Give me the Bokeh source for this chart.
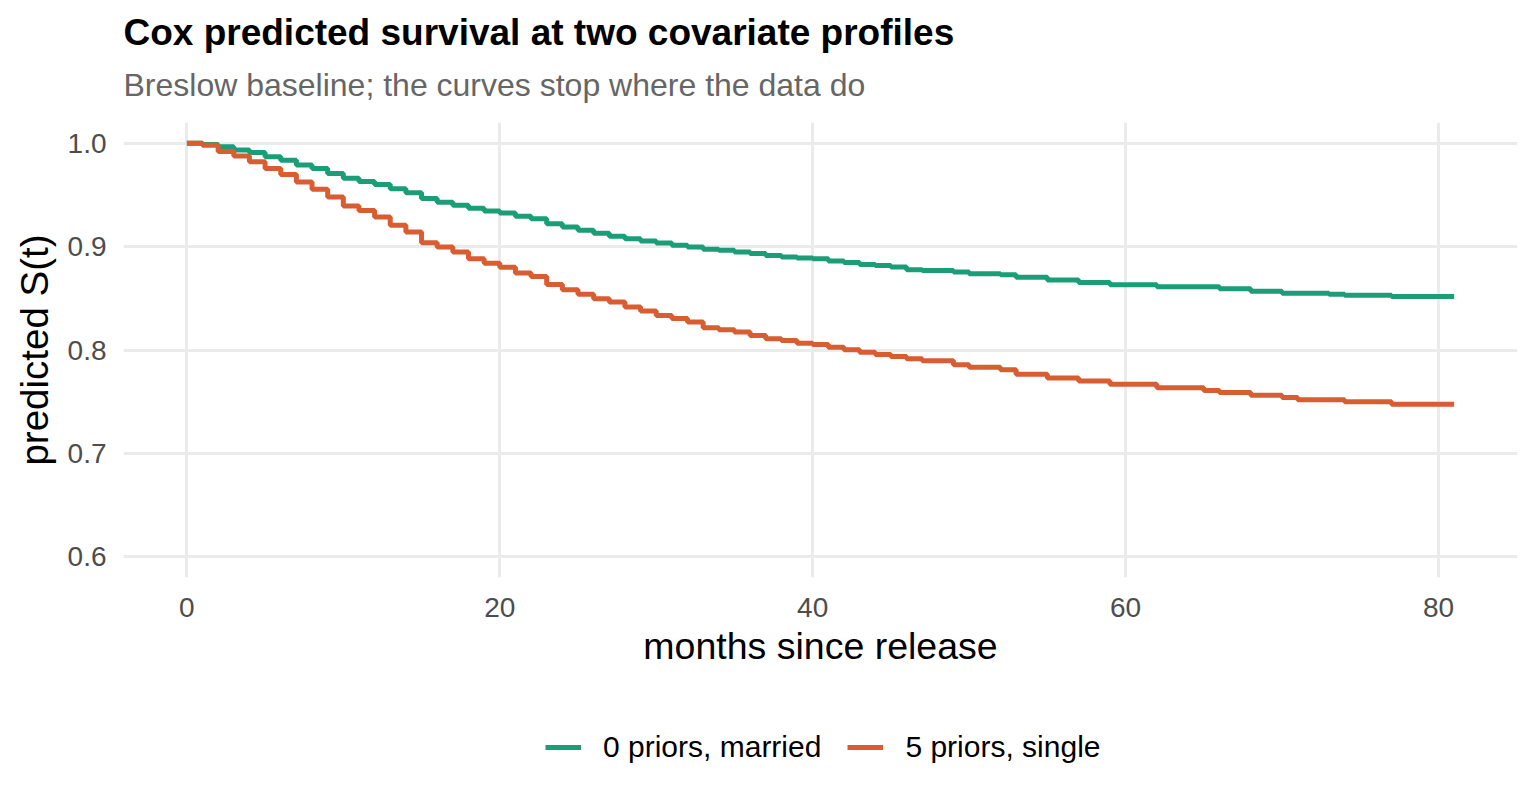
from bokeh.plotting import figure
from bokeh.layouts import column
from bokeh.models import Title, Legend, LegendItem, FixedTicker, PrintfTickFormatter, Range1d
from bokeh.embed import file_html
from bokeh.resources import INLINE

# ---- data ----
green_label = "0 priors, married"
red_label = "5 priors, single"

green_t = [0, 1, 2, 3, 4, 5, 6, 7, 8, 9, 10, 11, 12, 13, 14, 15, 16, 17, 18, 19,
           20, 21, 22, 23, 24, 25, 26, 27, 28, 29, 30, 31, 32, 33, 34, 35, 36, 37, 38, 39,
           40, 41, 42, 43, 44, 45, 46, 47, 49, 50, 52, 53, 55, 57, 59, 62, 66, 68, 70, 73, 74, 77]
green_s = [1.000, 0.9987, 0.9965, 0.9933, 0.991, 0.987, 0.9835, 0.979, 0.9755, 0.9707,
           0.966, 0.963, 0.960, 0.956, 0.952, 0.9464, 0.943, 0.940, 0.937, 0.9345,
           0.9325, 0.9293, 0.927, 0.9222, 0.919, 0.9157, 0.913, 0.910, 0.9077, 0.9054,
           0.9035, 0.9012, 0.8996, 0.8975, 0.8964, 0.8947, 0.8932, 0.8915, 0.8899, 0.889,
           0.8883, 0.886, 0.8845, 0.8828, 0.8818, 0.8802, 0.8777, 0.877,
           0.8754, 0.8738, 0.8728, 0.8703, 0.8677, 0.8653, 0.8631, 0.8612, 0.8593, 0.8567,
           0.855, 0.8538, 0.853, 0.8518]

red_t = [0, 1, 2, 3, 4, 5, 6, 7, 8, 9, 10, 11, 12, 13, 14, 15, 16, 17, 18, 19,
         20, 21, 22, 23, 24, 25, 26, 27, 28, 29, 30, 31, 32, 33, 34, 35, 36, 37, 38, 39,
         40, 41, 42, 43, 44, 45, 46, 47, 49, 50, 52, 53, 55, 57, 59, 62, 65, 66, 68, 70, 71, 74, 77]
red_s = [1.000, 0.998, 0.992, 0.9877, 0.982, 0.9755, 0.9697, 0.9625, 0.9554, 0.948,
         0.9393, 0.935, 0.9287, 0.9206, 0.914, 0.9038, 0.8996, 0.8947, 0.8883, 0.884,
         0.880, 0.8744, 0.871, 0.8634, 0.8583, 0.8538, 0.8496, 0.8463, 0.8415, 0.8376,
         0.8334, 0.8305, 0.827, 0.8215, 0.8195, 0.8173, 0.814, 0.8108, 0.8092, 0.8066,
         0.8053, 0.8027, 0.8002, 0.7979, 0.7956, 0.7937, 0.7915, 0.7895,
         0.7857, 0.7834, 0.781, 0.7766, 0.773, 0.770, 0.767, 0.7634, 0.7608, 0.759,
         0.7562, 0.754, 0.752, 0.750, 0.7475]

end_time = 81  # last follow-up time: curves stop here

x_ticks = [0, 20, 40, 60, 80]
y_ticks = [0.6, 0.7, 0.8, 0.9, 1.0]

title_text = "Cox predicted survival at two covariate profiles"
subtitle_text = "Breslow baseline; the curves stop where the data do"
x_label = "months since release"
y_label = "predicted S(t)"

GREEN = "#1B9E77"
RED = "#D95D32"
FONT = "Liberation Sans"
LW = 5

gx = green_t + [end_time]
gy = green_s + [green_s[-1]]
rx = red_t + [end_time]
ry = red_s + [red_s[-1]]

p = figure(width=1528, height=690, output_backend="svg", toolbar_location=None, title=None,
           x_range=Range1d(-4.05, 85.05), y_range=Range1d(0.58, 1.02),
           min_border_left=123, min_border_right=11, min_border_top=122, min_border_bottom=113)
p.outline_line_color = None
p.background_fill_color = "white"
p.border_fill_color = "white"

# titles (subtitle first: it sits closest to the plot)
p.add_layout(Title(text=subtitle_text, text_font=FONT, text_font_size="32px",
                   text_font_style="normal", text_color="#666666", align="left",
                   standoff=39), "above")
p.add_layout(Title(text=title_text, text_font=FONT, text_font_size="37px",
                   text_font_style="bold", text_color="black", align="left",
                   standoff=-14), "above")

r_green = p.step(gx, gy, mode="after", line_color=GREEN, line_width=LW)
r_red = p.step(rx, ry, mode="after", line_color=RED, line_width=LW)

# axes
for ax in (p.xaxis[0], p.yaxis[0]):
    ax.axis_line_color = None
    ax.major_tick_line_color = None
    ax.minor_tick_line_color = None
    ax.major_label_text_font = FONT
    ax.major_label_text_font_size = "28px"
    ax.major_label_text_color = "#4D4D4D"
    ax.axis_label_text_font = FONT
    ax.axis_label_text_font_size = "37.5px"
    ax.axis_label_text_font_style = "normal"
    ax.axis_label_text_color = "black"
p.yaxis.axis_label_text_font_size = "38.5px"

p.xaxis.ticker = FixedTicker(ticks=x_ticks)
p.yaxis.ticker = FixedTicker(ticks=y_ticks)
p.yaxis.formatter = PrintfTickFormatter(format="%.1f")
p.xaxis.axis_label = x_label
p.yaxis.axis_label = y_label
p.xaxis.major_label_standoff = 14
p.yaxis.major_label_standoff = 11
p.xaxis.axis_label_standoff = 5
p.yaxis.axis_label_standoff = 9

p.xgrid.ticker = FixedTicker(ticks=x_ticks)
p.ygrid.ticker = FixedTicker(ticks=y_ticks)
for g in (p.xgrid[0], p.ygrid[0]):
    g.grid_line_color = "#EBEBEB"
    g.grid_line_width = 3

# legend strip below the plot (same series drawn out of view so the keys render)
leg = figure(width=1528, height=114, output_backend="svg", toolbar_location=None,
             title=None, x_range=Range1d(0, 1), y_range=Range1d(2, 3),
             min_border_left=123, min_border_right=11, min_border_top=0, min_border_bottom=0)
leg.axis.visible = False
leg.grid.visible = False
leg.outline_line_color = None
leg.border_fill_color = "white"
lg = leg.step(gx, gy, mode="after", line_color=GREEN, line_width=LW)
lr = leg.step(rx, ry, mode="after", line_color=RED, line_width=LW)
legend = Legend(items=[LegendItem(label=green_label, renderers=[lg]),
                       LegendItem(label=red_label, renderers=[lr])],
                orientation="horizontal", location=(422, 40),
                label_text_font=FONT, label_text_font_size="30px",
                label_text_color="black",
                glyph_width=36, glyph_height=20, label_standoff=22, spacing=26,
                padding=0, margin=0, border_line_color=None,
                background_fill_alpha=0)
leg.add_layout(legend, "center")

layout = column(p, leg, spacing=0)
open("out.html", "w").write(file_html(layout, INLINE))
